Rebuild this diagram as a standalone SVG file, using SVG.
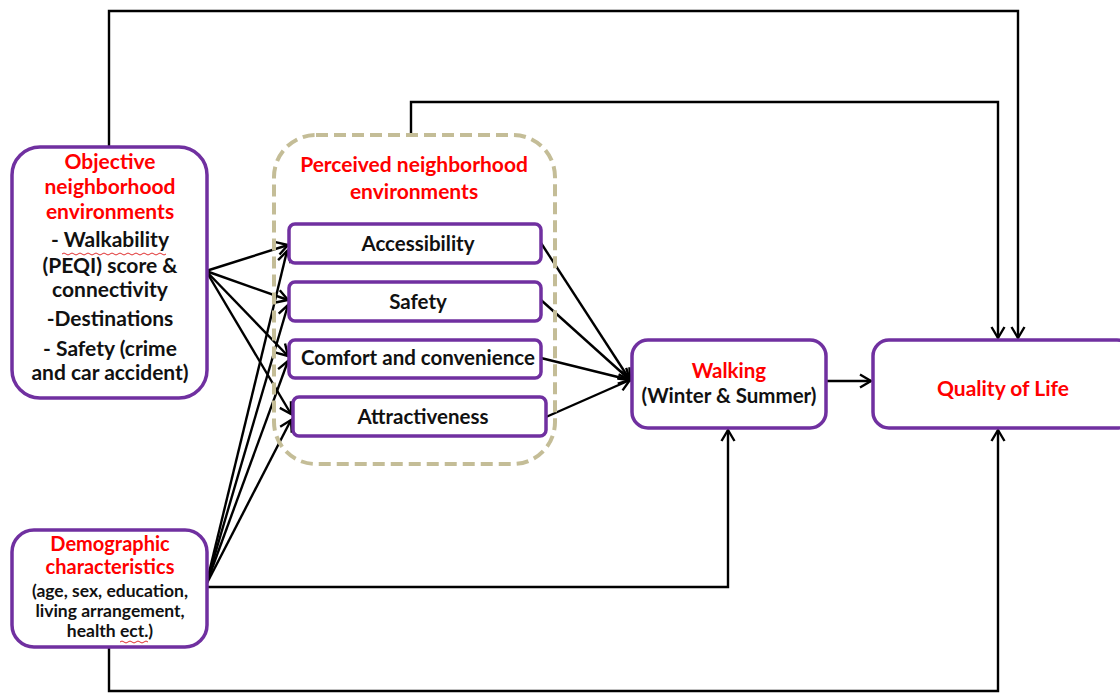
<svg xmlns="http://www.w3.org/2000/svg" width="1120" height="694" viewBox="0 0 1120 694">
  <style>
    .box { fill: #fff; stroke: #7030A0; stroke-width: 3.5; }
    .group { fill: none; stroke: #C4BD97; stroke-width: 4; stroke-dasharray: 12 6; }
    .t { font-family: Lato, "Open Sans", "Liberation Sans", sans-serif; font-weight: bold; text-anchor: middle; fill: #111; }
    .red { fill: #FF0000; }
    .f18 { font-size: 21px; }
    .f17 { font-size: 20.5px; }
    .f20 { font-size: 20px; }
    .f16 { font-size: 17.5px; }
    .conn { fill: none; stroke: #000; stroke-width: 2.4; }
    .squig { fill: none; stroke: #E03030; stroke-width: 1; }
  </style>
  <defs>
    <marker id="arr" markerUnits="userSpaceOnUse" markerWidth="16" markerHeight="16" refX="12" refY="7" orient="auto" overflow="visible">
      <path d="M1,0.5 L12,7 L1,13.5" fill="none" stroke="#000" stroke-width="2.4"/>
    </marker>
  </defs>

  <rect width="1120" height="694" fill="#fff"/>

  <!-- connectors -->
  <g id="connectors" class="conn">
    <path d="M109,147 V11 H1018 V338" marker-end="url(#arr)"/>
    <path d="M411,135 V102 H998 V338" marker-end="url(#arr)"/>
    <path d="M109,647 V691 H998 V430" marker-end="url(#arr)"/>
    <path d="M206,587 H728 V430" marker-end="url(#arr)"/>
    <path d="M826,381 H871" marker-end="url(#arr)"/>
    <!-- objective environment to perceived factors -->
    <path d="M206,271 L288,245" marker-end="url(#arr)"/>
    <path d="M206,271 L288,300" marker-end="url(#arr)"/>
    <path d="M206,271 L288,356" marker-end="url(#arr)"/>
    <path d="M206,271 L291,414" marker-end="url(#arr)"/>
    <!-- demographics to perceived factors -->
    <path d="M206,585 L287,251" marker-end="url(#arr)"/>
    <path d="M206,585 L288,305" marker-end="url(#arr)"/>
    <path d="M206,585 L288,361" marker-end="url(#arr)"/>
    <path d="M206,585 L291,420" marker-end="url(#arr)"/>
    <!-- perceived factors to walking -->
    <path d="M541,243 L630,380" marker-end="url(#arr)"/>
    <path d="M541,300 L630,380" marker-end="url(#arr)"/>
    <path d="M541,358 L630,380" marker-end="url(#arr)"/>
    <path d="M546,417 L630,380" marker-end="url(#arr)"/>
  </g>

  <g id="objective">
    <rect class="box" x="12" y="147" width="195" height="251" rx="28"/>
    <text class="t red f18" x="110" y="169">Objective</text>
    <text class="t red f18" x="110" y="194">neighborhood</text>
    <text class="t red f18" x="110" y="219">environments</text>
    <text class="t f18" x="110" y="247">- Walkability</text>
    <path class="squig" d="M62,254 q2,-2 4,0 t4,0 t4,0 t4,0 t4,0 t4,0 t4,0 t4,0 t4,0 t4,0 t4,0 t4,0 t4,0 t4,0 t4,0 t4,0 t4,0 t4,0 t4,0 t4,0 t4,0 t4,0 t4,0 t4,0 t4,0 t4,0"/>
    <text class="t f18" x="110" y="273">(PEQI) score &amp;</text>
    <text class="t f18" x="110" y="297">connectivity</text>
    <text class="t f18" x="110" y="326">-Destinations</text>
    <text class="t f18" x="110" y="356">- Safety (crime</text>
    <text class="t f18" x="110" y="380">and car accident)</text>
  </g>

  <g id="demographic">
    <rect class="box" x="12" y="530" width="195" height="117" rx="22"/>
    <text class="t red f20" x="110" y="551">Demographic</text>
    <text class="t red f20" x="110" y="574">characteristics</text>
    <text class="t f16" x="110" y="597">(age, sex, education,</text>
    <text class="t f16" x="110" y="617">living arrangement,</text>
    <text class="t f16" x="110" y="637">health ect.)</text>
    <path class="squig" d="M120,642 q2,-2 4,0 t4,0 t4,0 t4,0 t4,0 t4,0 t4,0"/>
  </g>

  <g id="perceived">
    <rect class="group" x="274" y="135" width="281" height="329" rx="42"/>
    <text class="t red f18" x="414" y="172">Perceived neighborhood</text>
    <text class="t red f18" x="414" y="199">environments</text>
  </g>

  <g id="accessibility">
    <rect class="box" x="289" y="224" width="252" height="39" rx="6"/>
    <text class="t f17" x="418" y="251">Accessibility</text>
  </g>
  <g id="safety">
    <rect class="box" x="289" y="282" width="252" height="39" rx="6"/>
    <text class="t f17" x="418" y="309">Safety</text>
  </g>
  <g id="comfort">
    <rect class="box" x="289" y="340" width="252" height="38" rx="6"/>
    <text class="t f17" x="418" y="365">Comfort and convenience</text>
  </g>
  <g id="attractiveness">
    <rect class="box" x="293" y="397" width="253" height="39" rx="6"/>
    <text class="t f17" x="423" y="424">Attractiveness</text>
  </g>

  <g id="walking">
    <rect class="box" x="632" y="340" width="194" height="88" rx="16"/>
    <text class="t red f17" x="729" y="378">Walking</text>
    <text class="t f17" x="729" y="403">(Winter &amp; Summer)</text>
  </g>

  <g id="quality">
    <rect class="box" x="873" y="340" width="260" height="88" rx="16"/>
    <text class="t red f18" x="1003" y="396">Quality of Life</text>
  </g>
</svg>
